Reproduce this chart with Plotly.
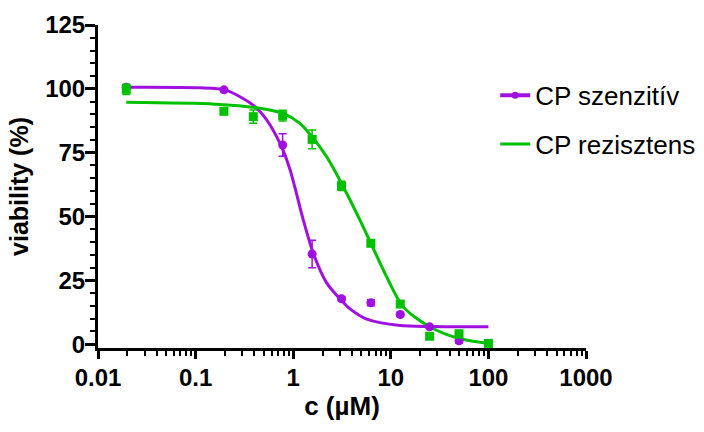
import plotly.graph_objects as go

# ---- data ----
conc_sens = [0.0195, 0.195, 0.78, 1.5625, 3.125, 6.25, 12.5, 25, 50]
viab_sens = [100.6, 99.6, 78.0, 35.3, 17.8, 16.2, 11.6, 6.8, 1.3]
err_sens = [0.8, 0.6, 4.4, 5.4, 0.8, 1.2, 0.8, 0.6, 0.8]

conc_res = [0.0195, 0.195, 0.39, 0.78, 1.5625, 3.125, 6.25, 12.5, 25, 50, 100]
viab_res = [99.8, 91.2, 89.1, 89.5, 80.2, 62.0, 39.5, 15.7, 3.1, 4.0, 0.3]
err_res = [2.0, 0.8, 2.6, 2.1, 3.7, 1.8, 0.8, 1.0, 0.6, 1.5, 0.6]

# fitted curves
fit_x_sens = [0.0195, 0.111, 0.2, 0.285, 0.406, 0.535, 0.678, 0.787, 0.927, 1.04,
              1.27, 1.61, 2.2, 3.14, 3.82, 5.66, 12.5, 25, 100]
fit_y_sens = [100.6, 100.4, 99.6, 96.9, 93.0, 87.8, 81.2, 76.0, 68.4, 61.5,
              48.6, 35.5, 24.0, 17.0, 13.8, 9.8, 7.3, 6.9, 6.8]

fit_x_res = [0.0195, 0.158, 0.406, 0.787, 1.17, 1.61, 2.2, 3.0, 4.83, 6.25,
             9.06, 13.4, 25, 50, 100]
fit_y_res = [94.7, 94.0, 92.7, 90.4, 86.5, 80.6, 73.4, 64.3, 48.6, 39.5,
             26.4, 14.6, 6.8, 2.2, 0.3]

x_tickvals = [0.01, 0.1, 1, 10, 100, 1000]
x_ticktext = ["0.01", "0.1", "1", "10", "100", "1000"]
y_tickvals = [0, 25, 50, 75, 100, 125]

series_names = ["CP szenzitív", "CP rezisztens"]
x_title = "c (µM)"
y_title = "viability (%)"

PURPLE = "#A010E0"
GREEN = "#00C000"
FONT = "Liberation Sans, Arial, sans-serif"

fig = go.Figure()

# fitted curves
fig.add_trace(go.Scatter(x=fit_x_sens, y=fit_y_sens, mode="lines",
                         line=dict(color=PURPLE, width=3, shape="spline", smoothing=0.8),
                         showlegend=False, hoverinfo="skip"))
fig.add_trace(go.Scatter(x=fit_x_res, y=fit_y_res, mode="lines",
                         line=dict(color=GREEN, width=3, shape="spline", smoothing=0.8),
                         name=series_names[1], legendgroup="b", legendrank=2))

# data points
fig.add_trace(go.Scatter(x=conc_sens, y=viab_sens, mode="markers",
                         marker=dict(color=PURPLE, size=9, symbol="circle"),
                         error_y=dict(type="data", array=err_sens, color=PURPLE,
                                      thickness=1.5, width=4),
                         showlegend=False))
fig.add_trace(go.Scatter(x=conc_res, y=viab_res, mode="markers",
                         marker=dict(color=GREEN, size=9, symbol="square"),
                         error_y=dict(type="data", array=err_res, color=GREEN,
                                      thickness=1.5, width=4),
                         showlegend=False))

# legend entry for sensitive series (line + dot)
fig.add_trace(go.Scatter(x=[None], y=[None], mode="lines+markers",
                         line=dict(color=PURPLE, width=4),
                         marker=dict(color=PURPLE, size=7),
                         name=series_names[0], legendgroup="a", legendrank=1))

axis_common = dict(showline=True, linecolor="black", linewidth=3,
                   ticks="outside", tickcolor="black", tickwidth=3,
                   showgrid=False, zeroline=False,
                   tickfont=dict(family=FONT, size=24, color="black", weight="bold"))

fig.update_xaxes(type="log", range=[-2, 3], tickvals=x_tickvals, ticktext=x_ticktext,
                 ticklen=8,
                 minor=dict(ticks="outside", ticklen=5, tickwidth=2, tickcolor="black",
                            dtick="D1", showgrid=False),
                 title=dict(text=x_title, font=dict(family=FONT, size=26, color="black",
                                                    weight="bold"), standoff=8),
                 ticklabelstandoff=-2,
                 **axis_common)
fig.update_yaxes(range=[-1.5, 125], tickvals=y_tickvals, ticklen=10,
                 minor=dict(ticks="outside", ticklen=5, tickwidth=2, tickcolor="black",
                            dtick=5, showgrid=False),
                 title=dict(text=y_title, font=dict(family=FONT, size=25, color="black",
                                                    weight="bold"), standoff=10),
                 ticklabelstandoff=-5,
                 **axis_common)

fig.update_layout(
    width=704, height=432,
    margin=dict(l=98, r=118, t=25, b=84, autoexpand=False),
    paper_bgcolor="white", plot_bgcolor="white",
    showlegend=True,
    legend=dict(x=0.814, y=0.855, xanchor="left", yanchor="top",
                font=dict(family=FONT, size=26, color="black"),
                bgcolor="rgba(0,0,0,0)", tracegroupgap=12,
                traceorder="grouped"),
)

fig.write_html("out.html")
